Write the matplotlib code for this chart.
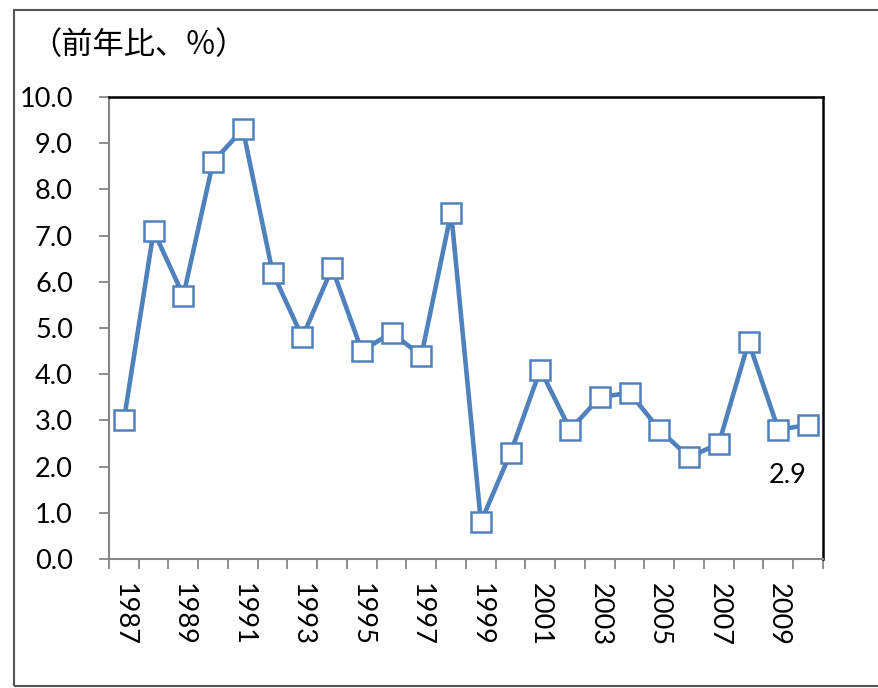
import matplotlib
matplotlib.use("Agg")
import matplotlib.pyplot as plt
from matplotlib.patches import Rectangle

years = list(range(1987, 2011))
values = [3.0, 7.1, 5.7, 8.6, 9.3, 6.2, 4.8, 6.3, 4.5, 4.9, 4.4, 7.5,
          0.8, 2.3, 4.1, 2.8, 3.5, 3.6, 2.8, 2.2, 2.5, 4.7, 2.8, 2.9]
title_text = "（前年比、%）"
last_label = "2.9"

plt.rcParams['font.family'] = ['Lato', 'Noto Sans CJK JP', 'DejaVu Sans']

W, H = 879, 688
fig = plt.figure(figsize=(W / 100, H / 100), dpi=100)
ax = fig.add_axes([109 / W, 1 - 559 / H, (823 - 109) / W, (559 - 97) / H])

x = list(range(len(years)))
ax.plot(x, values, color="#4F81BD", lw=3.3, marker="s", markersize=14,
        markerfacecolor="white", markeredgecolor="#4F81BD", markeredgewidth=1.8,
        solid_joinstyle="round", zorder=3, clip_on=False)

ax.set_xlim(-0.5, len(years) - 0.5)
ax.set_ylim(0, 10)
ax.set_yticks([i for i in range(0, 11)])
ax.set_yticklabels([f"{v:.1f}" for v in range(0, 11)], fontsize=19.5)
ax.tick_params(axis="y", length=7, width=1.3, color="#868686", pad=19)

ax.set_xticks(x)
ax.set_xticklabels([str(y) if (y - 1987) % 2 == 0 else "" for y in years],
                   rotation=270, fontsize=19.5, va="top", ha="center")
ax.tick_params(axis="x", which="major", length=0, pad=17)
ax.set_xticks([i - 0.5 for i in range(len(years) + 1)], minor=True)
ax.tick_params(axis="x", which="minor", length=7, width=1.3, color="#868686")

for s in ["left", "bottom"]:
    ax.spines[s].set_color("#868686")
    ax.spines[s].set_linewidth(1.5)
for s in ["top", "right"]:
    ax.spines[s].set_color("black")
    ax.spines[s].set_linewidth(1.8)

ax.annotate(last_label, xy=(x[-1], values[-1]), xytext=(-15, -36),
            textcoords="offset points", ha="center", va="center", fontsize=19.5)

fig.text(30 / W, 1 - 45 / H, title_text, fontsize=22.5, va="center", ha="left",
         family=['Noto Sans CJK JP', 'DejaVu Sans'])

fig.patches.append(Rectangle((14 / W, 1 - 686 / H), 1.0, (686 - 10) / H,
                             transform=fig.transFigure, fill=False,
                             edgecolor="#555555", lw=1.5, figure=fig))

fig.savefig("out.png", dpi=100)
